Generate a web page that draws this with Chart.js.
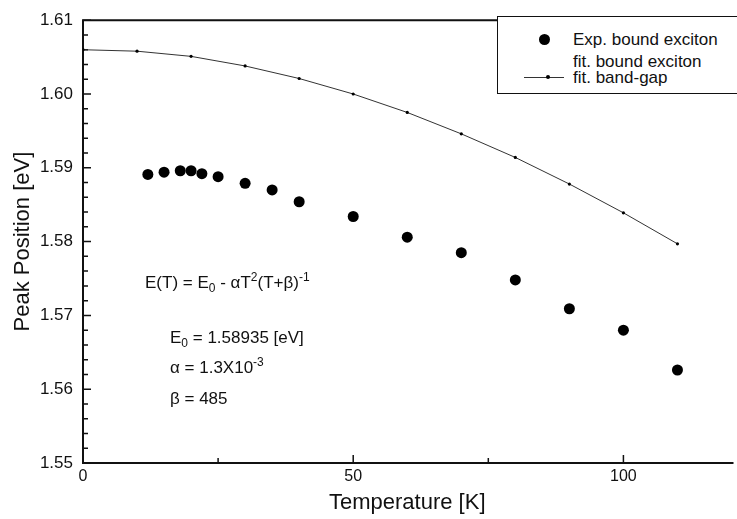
<!DOCTYPE html>
<html><head><meta charset="utf-8">
<script src="https://cdn.jsdelivr.net/npm/chart.js@4/dist/chart.umd.min.js"></script>
<style>
html,body{margin:0;padding:0;background:#fff;}
#wrap{position:relative;width:737px;height:519px;overflow:hidden;background:#fff;}
canvas{position:absolute;left:0;top:0;}
.t{position:absolute;font-family:"Liberation Sans",Arial,sans-serif;color:#111;white-space:nowrap;line-height:1;font-size:17px;}
.t sub,.t sup{font-size:12px;line-height:0;}
#legend{position:absolute;left:497px;top:16px;width:260px;height:76px;border:1px solid #111;background:#fff;}
</style></head><body>
<div id="wrap"><canvas id="c" width="737" height="519"></canvas>
<div id="legend">
  <div style="position:absolute;left:41px;top:17px;width:11px;height:11px;border-radius:50%;background:#000;"></div>
  <div style="position:absolute;left:26px;top:60px;width:40px;height:1px;background:#333;"></div>
  <div style="position:absolute;left:48px;top:58px;width:4px;height:4px;border-radius:50%;background:#000;"></div>
  <div class="t" style="left:75px;top:14px;">Exp. bound exciton</div>
  <div class="t" style="left:75px;top:36px;">fit. bound exciton</div>
  <div class="t" style="left:75px;top:52px;">fit. band-gap</div>
</div>
<div class="t" style="left:145px;top:274px;">E(T) = E<sub>0</sub> - αT<sup>2</sup>(T+β)<sup>-1</sup></div>
<div class="t" style="left:170px;top:329px;">E<sub>0</sub> = 1.58935 [eV]</div>
<div class="t" style="left:170px;top:359px;">α = 1.3X10<sup>-3</sup></div>
<div class="t" style="left:170px;top:390px;">β = 485</div>
</div>
<script>
const expT = [12, 15, 18, 20, 22, 25, 30, 35, 40, 50, 60, 70, 80, 90, 100, 110];
const expE = [1.5891, 1.5894, 1.5896, 1.5896, 1.5892, 1.5888, 1.5879, 1.5870, 1.5854, 1.5834, 1.5806, 1.5785, 1.5748, 1.5709, 1.5680, 1.5626];
const gapT = [0, 10, 20, 30, 40, 50, 60, 70, 80, 90, 100, 110];
const gapE = [1.6060, 1.6058, 1.6051, 1.6038, 1.6021, 1.6000, 1.5975, 1.5946, 1.5914, 1.5878, 1.5839, 1.5797];
const xTickLabels = [0, 50, 100];
const yTickLabels = [1.55, 1.56, 1.57, 1.58, 1.59, 1.60, 1.61];

const FONT = '"Liberation Sans", Arial, sans-serif';

const frameTicks = {
  id: 'frameTicks',
  beforeDatasetsDraw(chart) {
    const {ctx, chartArea: a, scales: {x, y}} = chart;
    ctx.save();
    ctx.strokeStyle = '#111';
    ctx.lineWidth = 2;
    ctx.beginPath();
    ctx.moveTo(a.right + 2, a.top); ctx.lineTo(a.left, a.top);
    ctx.lineTo(a.left, a.bottom); ctx.lineTo(a.right + 2, a.bottom);
    ctx.stroke();
    ctx.lineWidth = 1.5;
    ctx.beginPath();
    for (let v = 0; v <= 120; v += 25) {
      const px = x.getPixelForValue(v);
      const len = (v % 50 === 0) ? 8 : 5;
      ctx.moveTo(px, a.bottom); ctx.lineTo(px, a.bottom - len);
    }
    for (let i = 0; i <= 30; i++) {
      const v = 1.55 + i * 0.002;
      const py = y.getPixelForValue(v);
      const len = (i % 5 === 0) ? 8 : 5;
      ctx.moveTo(a.left, py); ctx.lineTo(a.left + len, py);
    }
    ctx.stroke();
    ctx.restore();
  }
};

new Chart(document.getElementById('c'), {
  type: 'scatter',
  data: {
    datasets: [
      {
        label: 'fit. band-gap',
        data: gapT.map((t, i) => ({x: t, y: gapE[i]})),
        showLine: true,
        borderColor: '#333',
        borderWidth: 1,
        pointRadius: 1.6,
        pointBackgroundColor: '#000',
        pointBorderWidth: 0
      },
      {
        label: 'Exp. bound exciton',
        data: expT.map((t, i) => ({x: t, y: expE[i]})),
        pointRadius: 5.5,
        pointBackgroundColor: '#000',
        pointBorderColor: '#000',
        pointBorderWidth: 0
      }
    ]
  },
  options: {
    responsive: false,
    animation: false,
    layout: {padding: {top: 17, right: 0, left: 0, bottom: 0}},
    plugins: {legend: {display: false}, tooltip: {enabled: false}},
    scales: {
      x: {
        type: 'linear', min: 0, max: 120,
        afterFit: s => { s.height = 56; },
        afterBuildTicks: s => { s.ticks = xTickLabels.map(v => ({value: v})); },
        grid: {display: false, drawTicks: false},
        border: {display: false},
        ticks: {color: '#111', font: {family: FONT, size: 16}, padding: 4},
        title: {display: true, text: 'Temperature [K]', color: '#111', font: {family: FONT, size: 22}, padding: {top: 0, bottom: 3}}
      },
      y: {
        type: 'linear', min: 1.55, max: 1.61,
        afterFit: s => { s.width = 83; },
        afterBuildTicks: s => { s.ticks = yTickLabels.map(v => ({value: v})); },
        grid: {display: false, drawTicks: false},
        border: {display: false},
        ticks: {color: '#111', font: {family: FONT, size: 17}, padding: 10, callback: v => v.toFixed(2)},
        title: {display: true, text: 'Peak Position [eV]', color: '#111', font: {family: FONT, size: 22}, padding: {top: 10, bottom: 0}}
      }
    }
  },
  plugins: [frameTicks]
});
</script>
</body></html>
